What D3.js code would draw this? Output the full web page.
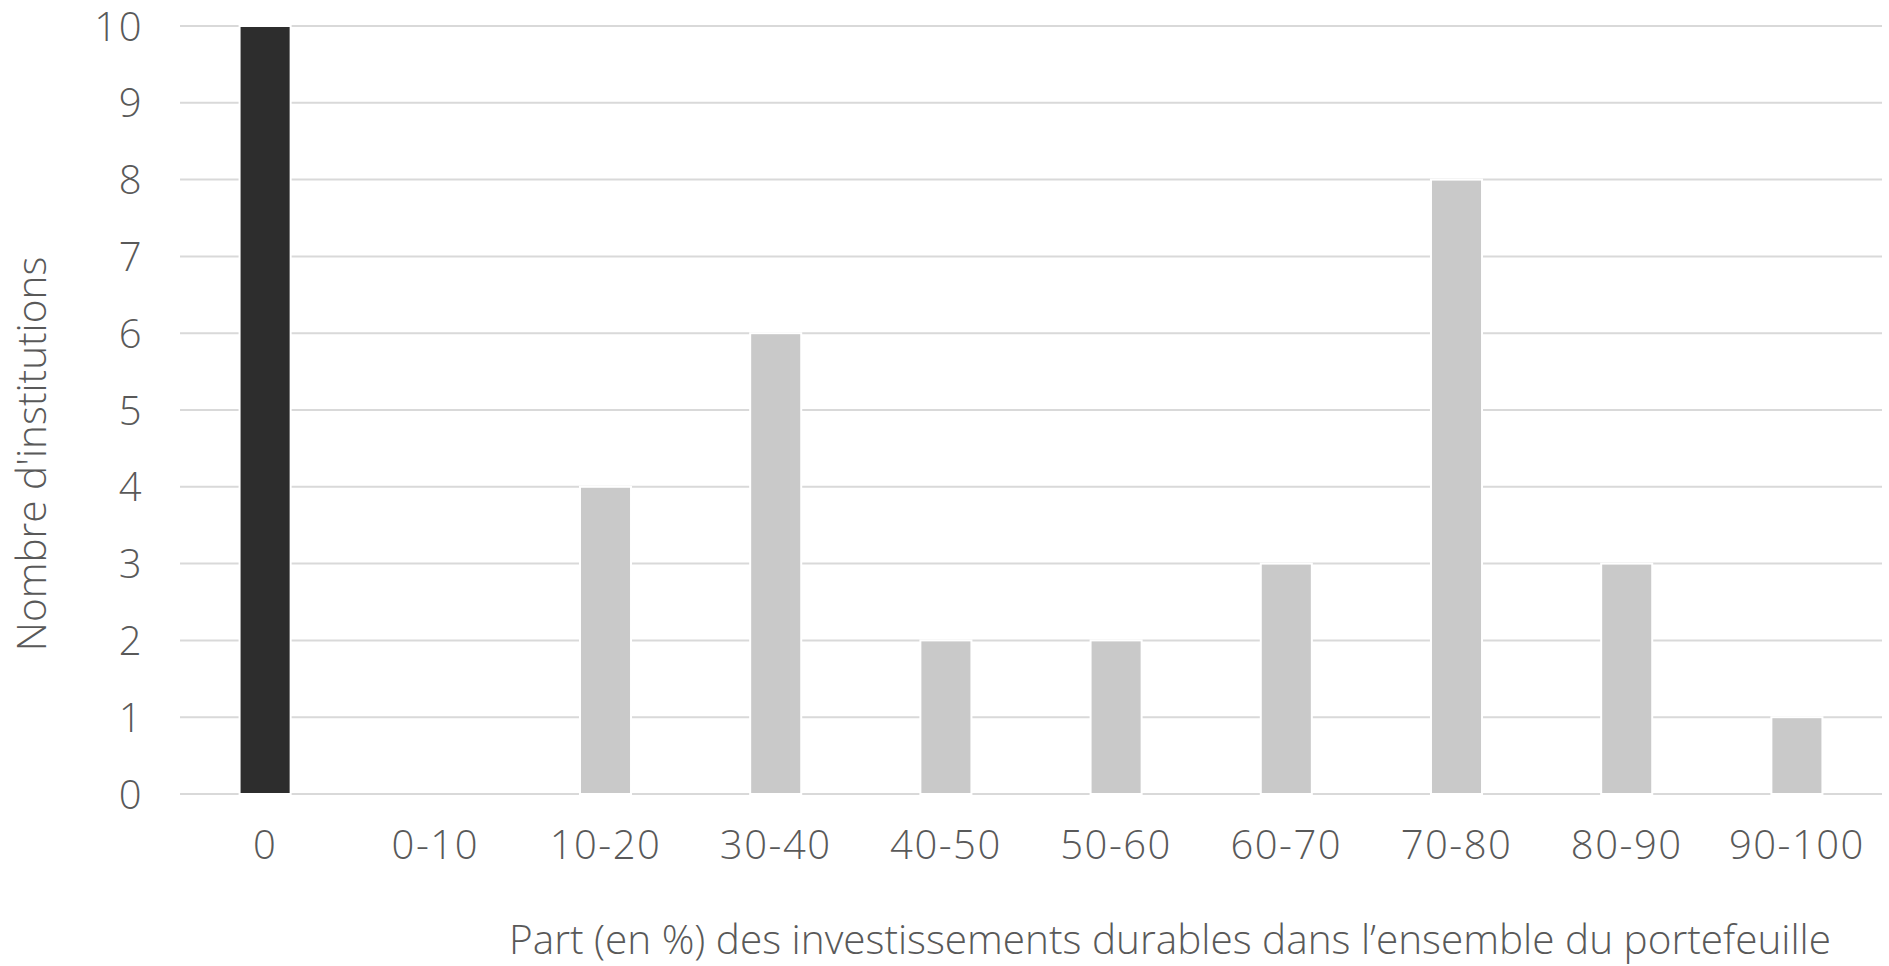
<!DOCTYPE html>
<html><head><meta charset="utf-8">
<script src="https://cdn.jsdelivr.net/npm/d3@7"></script>
<style>
html,body{margin:0;padding:0;background:#fff;}
text{font-family:"Open Sans",sans-serif;font-weight:300;fill:#595959;}
</style></head>
<body><svg id="chart" width="1889" height="966"></svg>
<script>
const categories = ["0","0-10","10-20","30-40","40-50","50-60","60-70","70-80","80-90","90-100"];
const values = [10,0,4,6,2,2,3,8,3,1];
const yTicks = [0,1,2,3,4,5,6,7,8,9,10];
const yTitle = "Nombre d'institutions";
const xTitle = "Part (en %) des investissements durables dans l\u2019ensemble du portefeuille";

const svg = d3.select("#chart");
const m = {left:180, right:1889-1882, top:26, bottom:966-794};
const W = 1889, H = 966;
const x = d3.scaleBand().domain(categories).range([m.left, W-m.right]).paddingInner(0.7).paddingOuter(0.35);
const y = d3.scaleLinear().domain([0,10]).range([H-m.bottom, m.top]);

// gridlines
svg.append("g").selectAll("line").data(yTicks).join("line")
  .attr("x1", m.left).attr("x2", W-m.right)
  .attr("y1", d=>y(d)).attr("y2", d=>y(d))
  .attr("stroke","#d9d9d9").attr("stroke-width",2);

// bars
svg.append("g").selectAll("rect").data(values.map((v,i)=>({c:categories[i],v,i}))).join("rect")
  .attr("x", d=>x(d.c)).attr("width", x.bandwidth())
  .attr("y", d=>y(d.v)).attr("height", d=>y(0)-y(d.v))
  .attr("fill", d=>d.i===0?"#2d2d2d":"#c9c9c9")
  .attr("stroke","#fff").attr("stroke-width",2)
  .style("display", d=>d.v>0?null:"none");

// y axis labels
const yAxis = d3.axisLeft(y).tickValues(yTicks).tickSize(0).tickPadding(0).tickFormat(d3.format("d"));
const gy = svg.append("g").attr("transform",`translate(143,0)`).call(yAxis);
gy.select(".domain").remove();

// x axis labels
const xAxis = d3.axisBottom(x).tickSize(0).tickPadding(0);
const gx = svg.append("g").attr("transform",`translate(0,845)`).call(xAxis);
gx.select(".domain").remove();

svg.selectAll("g").attr("font-family",null).attr("font-size",null);
svg.selectAll(".tick text").attr("fill","#595959").attr("font-size",40)
  .attr("dy","0.35em").style("letter-spacing","1.5px");

// titles
svg.append("text").attr("transform","translate(46,454) rotate(-90)")
  .attr("text-anchor","middle").attr("font-size",40.5).text(yTitle);
svg.append("text").attr("x",1170).attr("y",954)
  .attr("text-anchor","middle").attr("font-size",40.5).text(xTitle);
</script></body></html>
